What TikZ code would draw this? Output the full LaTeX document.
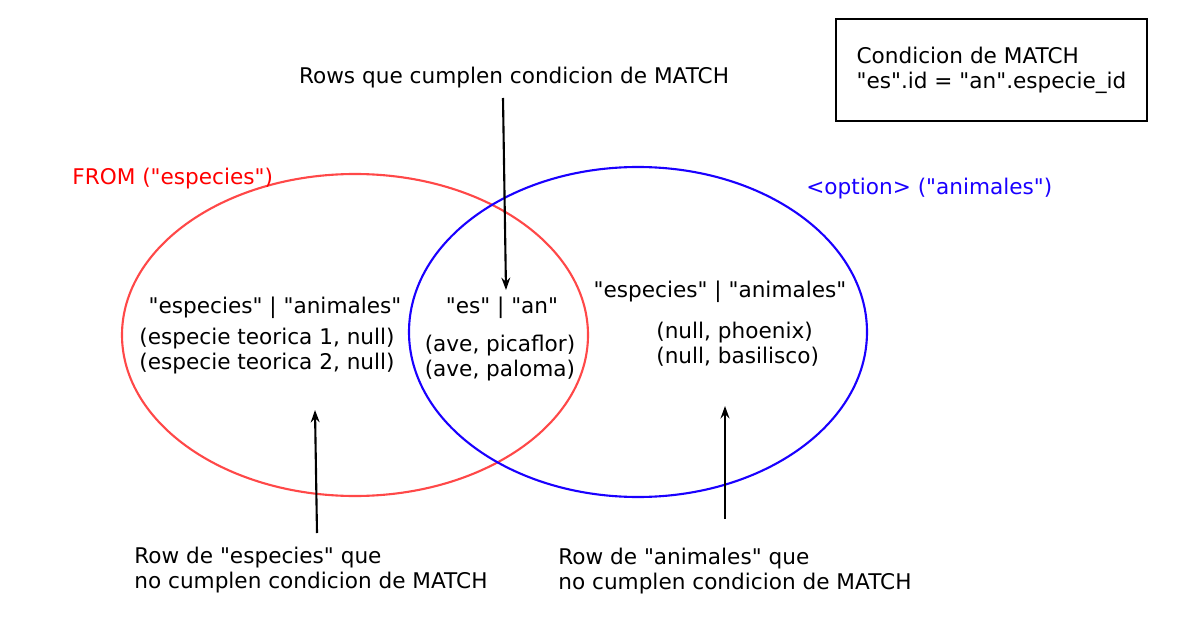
\documentclass[tikz,border=0pt]{standalone}
\usepackage{fontspec}
\setmainfont{DejaVu Sans}[Ligatures=TeXOff]
\usetikzlibrary{arrows.meta, positioning}
\definecolor{vnred}{HTML}{FF4848}
\definecolor{vnblue}{HTML}{1A00FF}
\definecolor{fromred}{HTML}{FF0000}

\tikzset{
  lbl/.style={font=\fontsize{12.3}{14.2}\selectfont, inner sep=0pt, align=left},
  ptr/.style={line width=1.2pt, -{Stealth[length=7pt, width=5pt]}},
}

\begin{document}
\begin{tikzpicture}[x=0.02cm, y=-0.02cm]
\useasboundingbox (0,0) rectangle (1197,625);

% Sets
\draw[vnred, line width=1.2pt] (355,335) ellipse [x radius=233, y radius=161];
\draw[vnblue, line width=1.2pt] (638,332) ellipse [x radius=229, y radius=165];

% Set titles
\node[lbl, text=fromred, anchor=west] (fromLbl) at (72,179) {FROM ("especies")};
\node[lbl, text=vnblue, anchor=west] (optLbl) at (806,189) {<option> ("animales")};

% Condition box
\node[lbl, draw, line width=1.1pt, minimum width=6.22cm, minimum height=2.04cm] (matchBox) at (991.5,70)
  {Condicion de MATCH\\"es".id = "an".especie\_id};

% Row contents
\node[lbl] (leftHead) at (275,308) {"especies" | "animales"};
\node[lbl] (leftRows) at (267,351) {(especie teorica 1, null)\\(especie teorica 2, null)};
\node[lbl] (midHead) at (502,308) {"es" | "an"};
\node[lbl] (midRows) at (500,358) {(ave, picaflor)\\(ave, paloma)};
\node[lbl] (rightHead) at (720,292) {"especies" | "animales"};
\node[lbl, anchor=west] (rightRows) at (656,344) {(null, phoenix)\\(null, basilisco)};

% Annotations
\node[lbl] (rowsLbl) at (514,78) {Rows que cumplen condicion de MATCH};
\node[lbl, anchor=west] (espLbl) at (134,570) {Row de "especies" que\\no cumplen condicion de MATCH};
\node[lbl, anchor=west] (aniLbl) at (558,571) {Row de "animales" que\\no cumplen condicion de MATCH};

% Pointers
\coordinate (rowsTail) at (503,98);
\coordinate (rowsTip) at (506,290);
\coordinate (espTail) at (317,533);
\coordinate (espTip) at (315,410);
\coordinate (aniTail) at (725,519);
\coordinate (aniTip) at (725,406);
\draw[ptr] (rowsTail) -- (rowsTip);
\draw[ptr] (espTail) -- (espTip);
\draw[ptr] (aniTail) -- (aniTip);

\end{tikzpicture}
\end{document}
